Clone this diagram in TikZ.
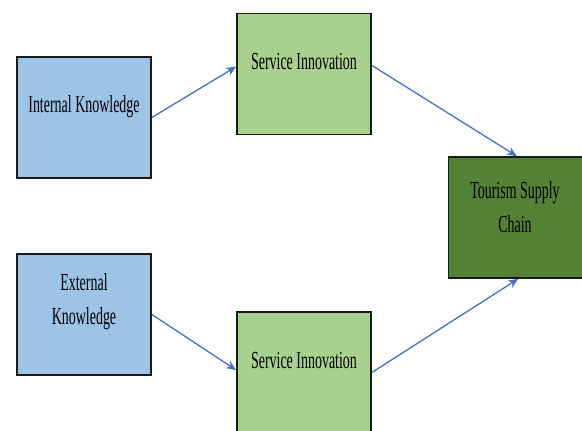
\documentclass[tikz,border=0pt]{standalone}
\usepackage{fontspec}
\setmainfont{Liberation Serif}
\usetikzlibrary{arrows.meta,calc}
\definecolor{boxblue}{HTML}{9DC3E6}
\definecolor{lightgreen}{HTML}{A9D18E}
\definecolor{darkgreen}{HTML}{548235}
\definecolor{arrowblue}{HTML}{4472C4}
\newcommand{\sqz}[1]{\scalebox{0.57}[1]{#1}}
\begin{document}
\begin{tikzpicture}[x=1pt,y=-1pt,
  box/.style={draw=black!90,line width=1.7pt,minimum width=134pt,minimum height=121pt,inner sep=0pt},
  txt/.style={font=\fontsize{24.5}{34}\selectfont,inner sep=0pt,align=center,text=black},
  conn/.style={draw=arrowblue,line width=1.3pt,-{Stealth[length=10pt,width=8.5pt]}}]
\clip (0,0) rectangle (582,431);
\fill[white] (0,0) rectangle (582,431);
\node[box,fill=boxblue] (b1) at (84,117.5) {};
\node[box,fill=lightgreen] (b2) at (304,74) {};
\node[box,fill=darkgreen] (b3) at (515.5,217.5) {};
\node[box,fill=boxblue] (b4) at (84,314.5) {};
\node[box,fill=lightgreen] (b5) at (304,372.5) {};
\node[txt] (t1) at (84,107) {\sqz{Internal Knowledge}};
\node[txt] (t2) at (304,62) {\sqz{Service Innovation}};
\node[txt] (t3) at (515,207) {\sqz{Tourism Supply}\\\sqz{Chain}};
\node[txt] (t4) at (84,302) {\sqz{External}\\\sqz{Knowledge}};
\node[txt] (t5) at (304,361) {\sqz{Service Innovation}};
\draw[conn] (b1.east) -- ($(b2.north west)!0.44!(b2.south west)$);
\draw[conn] ($(b2.north east)!0.43!(b2.south east)$) -- ($(b3.north west)!0.51!(b3.north east)$);
\draw[conn] (b4.east) -- ($(b5.north west)!0.48!(b5.south west)$);
\draw[conn] ($(b5.north east)!0.5!(b5.south east)$) -- ($(b3.south west)!0.52!(b3.south east)$);
\end{tikzpicture}
\end{document}
